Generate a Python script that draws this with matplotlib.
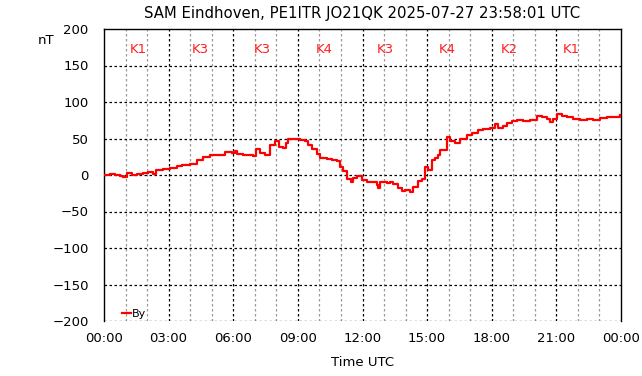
import matplotlib
matplotlib.use("Agg")
import matplotlib.pyplot as plt

hours = [0.0, 0.28, 0.51, 0.74, 0.90, 1.05, 1.29, 1.52, 1.81, 2.04, 2.27, 2.41, 2.74,
         3.06, 3.38, 3.61, 4.00, 4.30, 4.60, 4.92, 5.29, 5.62, 5.93, 6.08, 6.16, 6.45,
         6.69, 6.92, 7.06, 7.24, 7.47, 7.71, 7.94, 8.12, 8.31, 8.45, 8.54, 8.77, 9.10,
         9.33, 9.47, 9.64, 9.87, 10.03, 10.34, 10.57, 10.80, 10.96, 11.11, 11.30, 11.45,
         11.57, 11.76, 11.96, 12.20, 12.43, 12.66, 12.73, 12.81, 13.12, 13.28, 13.43,
         13.66, 13.82, 13.97, 14.21, 14.36, 14.59, 14.75, 14.90, 15.06, 15.21, 15.37,
         15.52, 15.60, 15.75, 15.91, 16.06, 16.30, 16.53, 16.84, 17.07, 17.38, 17.61,
         17.92, 18.15, 18.31, 18.54, 18.70, 18.93, 19.16, 19.47, 19.78, 20.09, 20.32,
         20.55, 20.71, 20.86, 21.05, 21.25, 21.48, 21.79, 22.10, 22.41, 22.72, 23.03,
         23.34, 23.65, 23.96]
by_nT = [0, 1, 0, -2, -3, 3, 0, 2, 3, 4, 1, 7, 8,
         9, 12, 14, 15, 20, 25, 27, 27, 31, 30, 33, 29, 28,
         27, 26, 35, 30, 27, 41, 46, 39, 37, 44, 49, 50, 48,
         46, 41, 35, 29, 23, 22, 20, 19, 11, 5, -5, -10,
         -4, -2, -7, -9, -10, -14, -18, -10, -11, -10, -12,
         -18, -22, -21, -23, -16, -8, -5, 11, 7, 20, 23,
         27, 34, 34, 52, 46, 44, 50, 55, 58, 62, 63,
         64, 70, 64, 67, 71, 74, 75, 74, 76, 81, 79,
         77, 72, 77, 84, 81, 79, 77, 76, 77, 76, 78,
         79, 79, 82]

k_labels = ["K1", "K3", "K3", "K4", "K3", "K4", "K2", "K1"]
k_centers = [1.58, 4.46, 7.33, 10.21, 13.05, 15.93, 18.80, 21.68]
x_tick_labels = ["00:00", "03:00", "06:00", "09:00", "12:00", "15:00", "18:00", "21:00", "00:00"]
y_ticks = [-200, -150, -100, -50, 0, 50, 100, 150, 200]

fig = plt.figure(figsize=(6.42, 3.76), dpi=100)
ax = fig.add_axes([104/642, 1-321/376, 517/642, 292/376])

ax.set_xlim(0, 24)
ax.set_ylim(-200, 200)

# grids
for h in range(1, 24):
    if h % 3 != 0:
        ax.axvline(h, color="#999999", lw=0.9, ls=(0, (2, 2)), zorder=1)
    else:
        ax.axvline(h, color="black", lw=0.9, ls=(0, (2, 2)), zorder=1)
for v in y_ticks[:-1]:
    ax.axhline(v, color="black", lw=0.9, ls=(0, (2, 2)), zorder=1)

ax.plot(hours, by_nT, color="#ff0000", lw=1.6, drawstyle="steps-post", zorder=3,
        label="By")

for lab, c in zip(k_labels, k_centers):
    ax.text(c, 172, lab, color="#ff2020", fontsize=9.5, ha="center", va="center")

ax.set_xticks([0, 3, 6, 9, 12, 15, 18, 21, 24])
ax.set_xticklabels(x_tick_labels)
ax.set_yticks(y_ticks)
ax.tick_params(axis="both", length=0, labelsize=9.5, colors="black")
ax.tick_params(axis="y", pad=11)
ax.tick_params(axis="x", pad=8)

ax.spines["bottom"].set_visible(False)
for s in ["left", "right", "top"]:
    ax.spines[s].set_linewidth(1.0)

ax.set_title("SAM Eindhoven, PE1ITR JO21QK 2025-07-27 23:58:01 UTC", fontsize=10.7, pad=8)
ax.set_xlabel("Time UTC", fontsize=9.5, labelpad=8)
fig.text(46/642, 1-40/376, "nT", fontsize=9.5, ha="center", va="center")

leg = ax.legend(loc="lower left", bbox_to_anchor=(0.02, -0.02), frameon=False,
                fontsize=8, handlelength=0.8, handletextpad=0.1, borderpad=0.2)

fig.savefig("out.png", dpi=100)
